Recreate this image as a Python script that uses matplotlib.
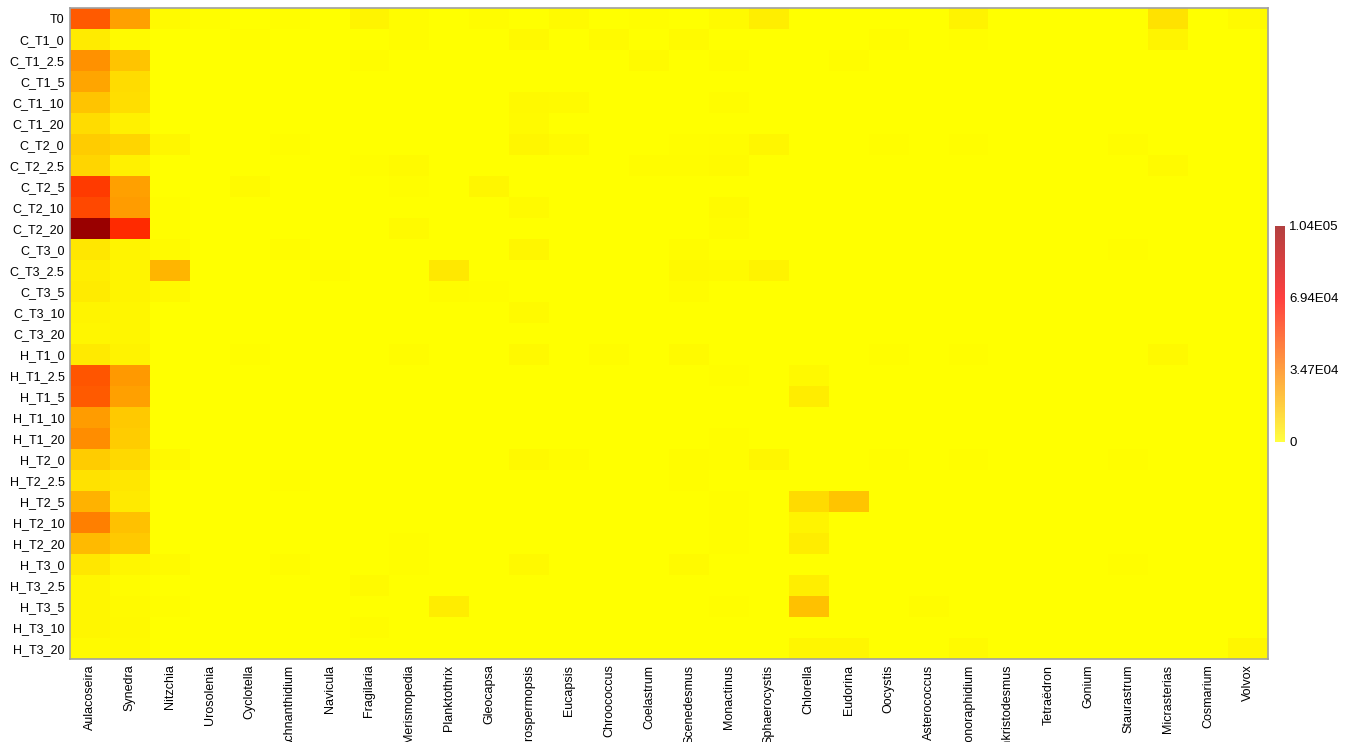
import numpy as np
import matplotlib
matplotlib.use("Agg")
import matplotlib.pyplot as plt
from matplotlib.colors import LinearSegmentedColormap
from matplotlib.ticker import FuncFormatter

plt.rcParams['font.family'] = ['Liberation Sans', 'DejaVu Sans']

samples = ["T0", "C_T1_0", "C_T1_2.5", "C_T1_5", "C_T1_10", "C_T1_20",
           "C_T2_0", "C_T2_2.5", "C_T2_5", "C_T2_10", "C_T2_20",
           "C_T3_0", "C_T3_2.5", "C_T3_5", "C_T3_10", "C_T3_20",
           "H_T1_0", "H_T1_2.5", "H_T1_5", "H_T1_10", "H_T1_20",
           "H_T2_0", "H_T2_2.5", "H_T2_5", "H_T2_10", "H_T2_20",
           "H_T3_0", "H_T3_2.5", "H_T3_5", "H_T3_10", "H_T3_20"]

taxa = ["Aulacoseira", "Synedra", "Nitzchia", "Urosolenia", "Cyclotella",
        "Achnanthidium", "Navicula", "Fragilaria", "Merismopedia", "Planktothrix",
        "Gleocapsa", "Cylindrospermopsis", "Eucapsis", "Chroococcus", "Coelastrum",
        "Scenedesmus", "Monactinus", "Sphaerocystis", "Chlorella", "Eudorina",
        "Oocystis", "Asterococcus", "Monoraphidium", "Ankristodesmus", "Tetraëdron",
        "Gonium", "Staurastrum", "Micrasterias", "Cosmarium", "Volvox"]

# abundance per taxon, one value per sample (same order as `samples`)
aulacoseira = [45000, 5500, 30000, 24500, 16000, 9500, 14000, 11500, 53600, 49700, 104100,
               6800, 4500, 5500, 3000, 2500, 6000, 46000, 45000, 27000, 31000,
               14000, 8000, 21000, 34800, 19000, 6800, 2500, 2500, 2500, 1500]
synedra = [25800, 1500, 16000, 9500, 9000, 4000, 11500, 4000, 25800, 27000, 58000,
           3000, 3000, 3000, 2500, 2500, 3500, 28000, 25800, 15000, 14000,
           10500, 6800, 6000, 17000, 15000, 2500, 1000, 1500, 2000, 1500]
nitzchia = [1500, 0, 0, 0, 0, 0, 2500, 0, 0, 800, 800,
            1500, 20000, 2000, 0, 0, 0, 0, 0, 0, 0,
            2000, 0, 0, 0, 0, 1500, 0, 700, 0, 0]
urosolenia = [500, 0, 0, 0, 0, 0, 0, 0, 0, 0, 0,
              0, 0, 0, 0, 0, 0, 0, 0, 0, 0,
              0, 0, 0, 0, 0, 0, 0, 0, 0, 0]
cyclotella = [0, 500, 0, 0, 0, 0, 0, 0, 1500, 0, 0,
              0, 0, 0, 0, 0, 800, 0, 0, 0, 0,
              0, 0, 0, 0, 0, 0, 0, 0, 0, 0]
achnanthidium = [800, 0, 0, 0, 0, 0, 500, 0, 0, 0, 0,
                 1000, 0, 0, 0, 0, 0, 0, 0, 0, 0,
                 0, 800, 0, 0, 0, 1000, 0, 0, 0, 0]
navicula = [0, 0, 0, 0, 0, 0, 0, 0, 0, 0, 0,
            0, 1000, 0, 0, 0, 0, 0, 0, 0, 0,
            0, 0, 0, 0, 0, 0, 0, 0, 0, 0]
fragilaria = [3000, 0, 1200, 0, 0, 0, 0, 800, 0, 0, 0,
              0, 0, 0, 0, 0, 0, 0, 0, 0, 0,
              0, 0, 0, 0, 0, 0, 1500, 0, 1000, 0]
merismopedia = [1000, 1200, 0, 0, 0, 0, 0, 1500, 800, 0, 1500,
                0, 0, 0, 0, 0, 1000, 0, 0, 0, 0,
                0, 0, 0, 0, 600, 600, 0, 0, 0, 0]
planktothrix = [0, 0, 0, 0, 0, 0, 0, 0, 0, 0, 0,
                0, 6500, 1000, 0, 0, 0, 0, 0, 0, 0,
                0, 0, 0, 0, 0, 0, 0, 5000, 0, 0]
gleocapsa = [1000, 0, 0, 0, 0, 0, 0, 0, 2500, 0, 0,
             0, 0, 800, 0, 0, 0, 0, 0, 0, 0,
             0, 0, 0, 0, 0, 0, 0, 0, 0, 0]
cylindrospermopsis = [0, 2000, 0, 0, 2000, 1500, 2500, 0, 0, 1500, 0,
                      2500, 0, 0, 1500, 0, 2000, 0, 0, 0, 0,
                      2000, 0, 0, 0, 0, 2000, 0, 0, 0, 0]
eucapsis = [1500, 0, 0, 0, 1500, 0, 1500, 0, 0, 0, 0,
            0, 0, 0, 0, 0, 0, 0, 0, 0, 0,
            1000, 0, 0, 0, 0, 0, 0, 0, 0, 0]
chroococcus = [0, 1500, 0, 0, 0, 0, 0, 0, 0, 0, 0,
               0, 0, 0, 0, 0, 1000, 0, 0, 0, 0,
               0, 0, 0, 0, 0, 0, 0, 0, 0, 0]
coelastrum = [800, 0, 1500, 0, 0, 0, 0, 1200, 0, 0, 0,
              0, 0, 0, 0, 0, 0, 0, 0, 0, 0,
              0, 0, 0, 0, 0, 0, 0, 0, 0, 0]
scenedesmus = [0, 1500, 0, 0, 0, 0, 500, 1200, 0, 0, 0,
               1200, 2000, 1000, 0, 0, 1500, 0, 0, 0, 0,
               1000, 500, 0, 0, 0, 1500, 0, 0, 0, 0]
monactinus = [1500, 0, 1000, 0, 1200, 0, 1000, 1500, 0, 1500, 1200,
              0, 1500, 0, 0, 0, 0, 700, 0, 0, 500,
              800, 0, 800, 500, 600, 0, 0, 500, 0, 0]
sphaerocystis = [4500, 0, 0, 0, 0, 0, 2500, 0, 0, 0, 0,
                 0, 3500, 0, 0, 0, 0, 0, 0, 0, 0,
                 2500, 0, 0, 0, 0, 0, 0, 0, 0, 0]
chlorella = [0, 0, 0, 0, 0, 0, 0, 0, 0, 0, 0,
             0, 0, 0, 0, 0, 0, 2000, 5000, 0, 0,
             0, 0, 10000, 3000, 5000, 0, 4500, 17000, 0, 2500]
eudorina = [0, 0, 1000, 0, 0, 0, 0, 0, 0, 0, 0,
            0, 0, 0, 0, 0, 0, 0, 0, 0, 0,
            0, 0, 16000, 0, 0, 0, 0, 0, 0, 2500]
oocystis = [0, 1200, 0, 0, 0, 0, 800, 0, 0, 0, 0,
            0, 0, 0, 0, 0, 700, 0, 0, 0, 0,
            500, 0, 0, 0, 0, 0, 0, 0, 0, 0]
asterococcus = [0, 0, 0, 0, 0, 0, 0, 0, 0, 0, 0,
                0, 0, 0, 0, 0, 0, 0, 0, 0, 0,
                0, 0, 0, 0, 0, 0, 0, 1000, 0, 0]
monoraphidium = [3500, 800, 0, 0, 0, 0, 800, 0, 0, 0, 0,
                 0, 0, 0, 0, 0, 700, 0, 0, 0, 0,
                 500, 0, 0, 0, 0, 0, 0, 0, 0, 1500]
ankristodesmus = [0] * 31
tetraedron = [0] * 31
gonium = [0] * 31
staurastrum = [0, 0, 0, 0, 0, 0, 1000, 0, 0, 0, 0,
               800, 0, 0, 0, 0, 0, 0, 0, 0, 0,
               800, 0, 0, 0, 0, 800, 0, 0, 0, 0]
micrasterias = [8000, 3000, 0, 0, 0, 0, 0, 1500, 0, 0, 0,
                0, 0, 0, 0, 0, 1800, 0, 0, 0, 0,
                0, 0, 0, 0, 0, 0, 0, 0, 0, 0]
cosmarium = [0] * 31
volvox = [1500, 0, 0, 0, 0, 0, 0, 0, 0, 0, 0,
          0, 0, 0, 0, 0, 0, 0, 0, 0, 0,
          0, 0, 0, 0, 0, 0, 0, 0, 0, 2500]

columns = [aulacoseira, synedra, nitzchia, urosolenia, cyclotella, achnanthidium,
           navicula, fragilaria, merismopedia, planktothrix, gleocapsa,
           cylindrospermopsis, eucapsis, chroococcus, coelastrum, scenedesmus,
           monactinus, sphaerocystis, chlorella, eudorina, oocystis, asterococcus,
           monoraphidium, ankristodesmus, tetraedron, gonium, staurastrum,
           micrasterias, cosmarium, volvox]
data = np.column_stack([np.array(c, dtype=float) for c in columns])

vmin, vmax = 0, 104100
cbar_ticks = [0, 34700, 69400, 104100]

cmap = LinearSegmentedColormap.from_list(
    "heat", [(0.0, "#ffff00"), (0.333, "#ff8000"), (0.667, "#ff0000"), (1.0, "#990000")])

W, H = 1353, 742
fig = plt.figure(figsize=(W / 100, H / 100), dpi=100)
ax = fig.add_axes([70 / W, (H - 659) / H, 1198 / W, 651 / H])

im = ax.imshow(data, cmap=cmap, vmin=vmin, vmax=vmax, aspect="auto",
               interpolation="nearest")
ax.set_xticks(np.arange(len(taxa)))
ax.set_xticklabels(taxa, rotation=90, ha="center", va="top", fontsize=9)
ax.set_yticks(np.arange(len(samples)))
ax.set_yticklabels(samples, fontsize=9)
ax.tick_params(length=0, pad=4)
for s in ax.spines.values():
    s.set_color("#a0a0a0")
    s.set_linewidth(1.2)

cax = fig.add_axes([1275 / W, (H - 442) / H, 10 / W, 216 / H])
cb = fig.colorbar(im, cax=cax, ticks=cbar_ticks)
cb.solids.set_alpha(0.75)
cb.outline.set_visible(False)


def fmt(v, pos):
    if v == 0:
        return "0"
    m, e = f"{v:.2E}".split("E")
    return f"{m}E{int(e):02d}"


cb.ax.yaxis.set_major_formatter(FuncFormatter(fmt))
cb.ax.tick_params(length=0, pad=3, labelsize=9.5)

fig.savefig("out.png", dpi=100)
